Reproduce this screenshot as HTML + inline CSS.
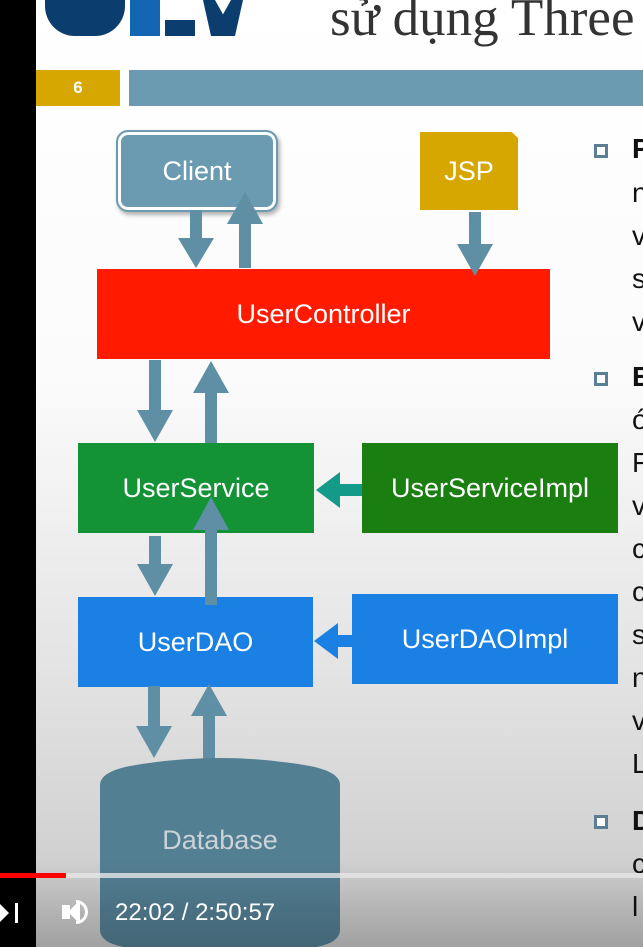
<!DOCTYPE html>
<html><head><meta charset="utf-8"><style>
*{margin:0;padding:0;box-sizing:border-box}
body{width:643px;height:947px;overflow:hidden;position:relative;font-family:"Liberation Sans","DejaVu Sans",sans-serif;background:#000}
.slide{position:absolute;left:36px;top:0;width:607px;height:947px;background:linear-gradient(#fff 0%,#fbfbfb 40%,#e4e4e4 70%,#c8c8c8 100%)}
.a{position:absolute}
.box{position:absolute;color:#fff;display:flex;align-items:center;justify-content:center;font-size:27px}
.rt{position:absolute;left:632px;font-size:28px;color:#111}
.bl{position:absolute;left:594px;width:14px;height:14px;border:3px solid #5a7f95;background:#fff}
</style></head><body>
<div class="slide"></div>
<div class="a" style="left:45px;top:0;width:205px;height:36px;">
 <div class="a" style="left:0;top:0;width:80px;height:36px;background:#0b3d6e;border-radius:0 0 30px 30px"></div>
 <div class="a" style="left:85px;top:0;width:30px;height:36px;background:#1466b3"></div>
 <div class="a" style="left:120px;top:20px;width:30px;height:16px;background:#0b3d6e"></div>
 <div class="a" style="left:158px;top:0;width:40px;height:36px;background:#0b3d6e;clip-path:polygon(0 0,30% 0,50% 40%,70% 0,100% 0,80% 100%,20% 100%)"></div>
</div>
<div class="a" style="left:330px;top:-12px;font-family:'Liberation Serif',serif;font-size:53px;color:#333;white-space:nowrap">sử dụng Three</div>
<div class="a" style="left:36px;top:70px;width:84px;height:36px;background:#d6a700;color:#fff;font-weight:bold;font-size:17px;display:flex;align-items:center;justify-content:center">6</div>
<div class="a" style="left:129px;top:70px;width:514px;height:36px;background:#6a9bb0"></div>

<div class="box" style="left:116px;top:130px;width:162px;height:82px;background:#6a9bb0;border:2px solid #6a9bb0;border-radius:12px;box-shadow:inset 0 0 0 3px #fff,2px 3px 4px rgba(0,0,0,.3)">Client</div>
<div class="box" style="left:417px;top:129px;width:104px;height:84px;background:#d6a700;border:3px solid #fff;box-shadow:0 0 0 1px #d6a700,2px 3px 4px rgba(0,0,0,.3);clip-path:polygon(0 0,88% 0,100% 14%,100% 100%,0 100%)">JSP</div>
<div class="box" style="left:97px;top:269px;width:453px;height:90px;background:#ff1a00">UserController</div>
<div class="box" style="left:78px;top:443px;width:236px;height:90px;background:#139336">UserService</div>
<div class="box" style="left:362px;top:443px;width:256px;height:90px;background:#1b7e10">UserServiceImpl</div>
<div class="box" style="left:78px;top:597px;width:235px;height:90px;background:#1a80e4">UserDAO</div>
<div class="box" style="left:352px;top:594px;width:266px;height:90px;background:#1a80e4">UserDAOImpl</div>

<svg class="a" style="left:0;top:0" width="643" height="947">
<g fill="#5f8fa5">
<path d="M190 210h12v28h12l-18 30l-18-30h12z"/>
<path d="M239 268v-44h-12l18-32l18 32h-12v44z"/>
<path d="M469 212h12v32h12l-18 32l-18-32h12z"/>
<path d="M149 360h12v50h12l-18 32l-18-32h12z"/>
<path d="M205 443v-50h-12l18-32l18 32h-12v50z"/>
<path d="M149 536h12v28h12l-18 32l-18-32h12z"/>
<path d="M205 605v-75h-12l18-33l18 33h-12v75z"/>
<path d="M148 686h12v40h12l-18 32l-18-32h12z"/>
<path d="M203 772v-56h-12l18-32l18 32h-12v56z"/>
</g>
<g fill="#139a88">
<path d="M362 484v12h-22v12l-24-18l24-18v12z"/>
</g>
<g fill="#1a80e4">
<path d="M352 635v12h-14v12l-24-18l24-18v12z"/>
</g>
<path d="M100 785 Q100 772 130 766 Q220 750 310 766 Q340 772 340 785 V930 Q340 944 310 948 Q220 958 130 948 Q100 944 100 930Z" fill="#537f93"/>
<text x="220" y="849" text-anchor="middle" font-size="27" fill="#c9d3d8" font-family="Liberation Sans,sans-serif">Database</text>
</svg>

<div class="bl" style="top:144px"></div>
<div class="bl" style="top:372px"></div>
<div class="bl" style="top:815px"></div>
<div class="rt" style="top:133px;font-weight:bold">F</div>
<div class="rt" style="top:177px">n</div>
<div class="rt" style="top:220px">v</div>
<div class="rt" style="top:263px">s</div>
<div class="rt" style="top:306px">v</div>
<div class="rt" style="top:361px;font-weight:bold">E</div>
<div class="rt" style="top:404px">ó</div>
<div class="rt" style="top:447px">F</div>
<div class="rt" style="top:490px">v</div>
<div class="rt" style="top:533px">c</div>
<div class="rt" style="top:576px">c</div>
<div class="rt" style="top:619px">s</div>
<div class="rt" style="top:662px">n</div>
<div class="rt" style="top:705px">v</div>
<div class="rt" style="top:748px">L</div>
<div class="rt" style="top:805px;font-weight:bold">D</div>
<div class="rt" style="top:848px">c</div>
<div class="rt" style="top:891px">l</div>

<div class="a" style="left:0;top:860px;width:643px;height:87px;background:linear-gradient(rgba(0,0,0,0),rgba(0,0,0,.2))"></div>
<div class="a" style="left:0;top:873px;width:643px;height:5px;background:rgba(230,230,230,.8)"></div>
<div class="a" style="left:0;top:873px;width:66px;height:5px;background:#f00"></div>
<div class="a" style="left:0;top:904px;width:0;height:0;border-top:9px solid transparent;border-bottom:9px solid transparent;border-left:9px solid #fff"></div>
<div class="a" style="left:15px;top:903px;width:3px;height:20px;background:#fff"></div>
<div class="a" style="left:62px;top:905px;width:8px;height:14px;background:#fff"></div>
<div class="a" style="left:68px;top:900px;width:0;height:0;border-top:12px solid transparent;border-bottom:12px solid transparent;border-right:12px solid #fff"></div>
<div class="a" style="left:76px;top:900px;width:12px;height:24px;border:3px solid #fff;border-left:none;border-radius:0 12px 12px 0"></div>
<div class="a" style="left:115px;top:899px;color:#fff;font-size:24px;white-space:nowrap">22:02 / 2:50:57</div>
</body></html>
